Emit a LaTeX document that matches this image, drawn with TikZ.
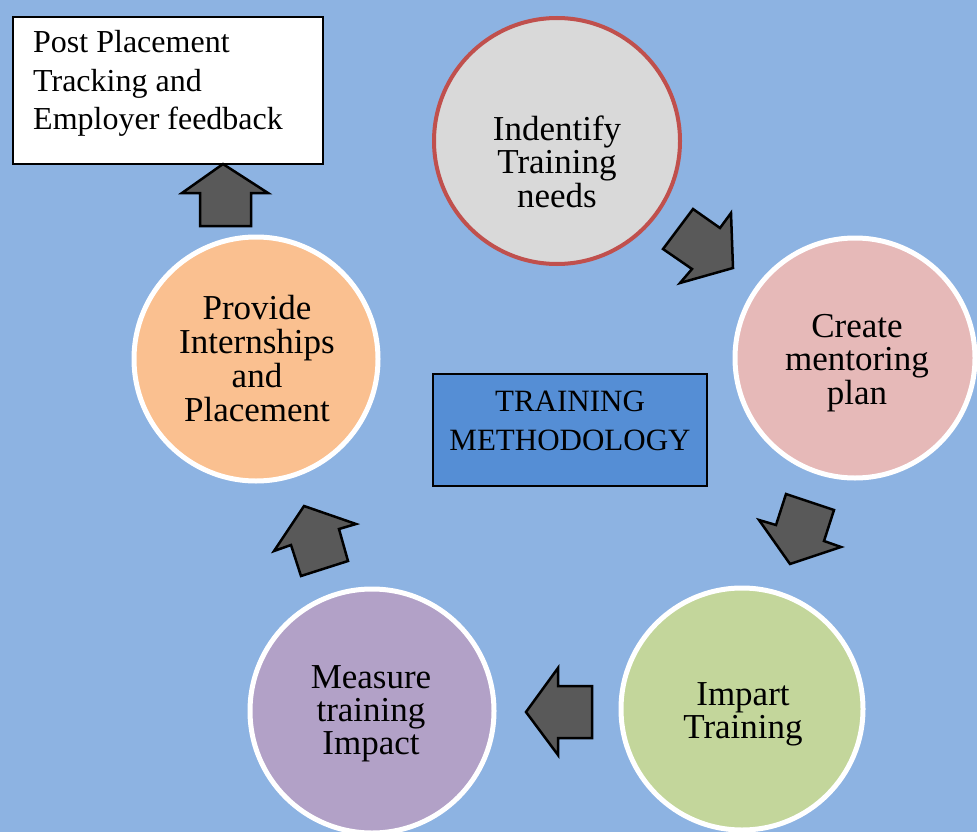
\documentclass[tikz,border=0pt]{standalone}
\usepackage{fontspec}
\setmainfont{Liberation Serif}
\definecolor{bg}{HTML}{8DB3E2}
\definecolor{cgray}{HTML}{D9D9D9}
\definecolor{cred}{HTML}{C0504D}
\definecolor{cpink}{HTML}{E6B9B8}
\definecolor{cgreen}{HTML}{C3D69B}
\definecolor{cpurple}{HTML}{B2A1C7}
\definecolor{corange}{HTML}{FAC090}
\definecolor{cblue}{HTML}{558ED5}
\definecolor{arrowgray}{HTML}{595959}
\begin{document}
\begin{tikzpicture}[x=1pt,y=-1pt,
  stage/.style={circle, draw=white, line width=5pt, inner sep=0pt},
  cyctext/.style={anchor=base, inner sep=0pt, font=\fontsize{35}{33}\selectfont},
  blockarrow/.style={fill=arrowgray, draw=black, line width=2.5pt, line join=miter},
  boxframe/.style={draw=black, line width=2pt, inner sep=0pt}]
\useasboundingbox (0,0) rectangle (977,832);
\fill[bg] (0,0) rectangle (977,832);
\clip (0,0) rectangle (977,832);

% circles
\node[stage, draw=cred, line width=4pt, fill=cgray, minimum size=246pt] (c1) at (557,141) {};
\node[stage, fill=cpink, minimum size=240pt] (c2) at (855,358) {};
\node[stage, fill=cgreen, minimum size=242pt] (c3) at (742,709) {};
\node[stage, fill=cpurple, minimum size=244pt] (c4) at (372,711) {};
\node[stage, fill=corange, minimum size=244pt] (c5) at (256,359) {};

% texts
\node[cyctext] (t1) at (557,140) {\begin{tabular}[t]{@{}c@{}}Indentify\\Training\\needs\end{tabular}};
\node[cyctext] (t2) at (857,337) {\begin{tabular}[t]{@{}c@{}}Create\\mentoring\\plan\end{tabular}};
\node[cyctext] (t3) at (743,705) {\begin{tabular}[t]{@{}c@{}}Impart\\Training\end{tabular}};
\node[cyctext] (t4) at (371,688) {\begin{tabular}[t]{@{}c@{}}Measure\\training\\Impact\end{tabular}};
\node[cyctext] (t5) at (257,319) {\begin{tabular}[t]{@{}c@{}}Provide\\Internships\\and\\Placement\end{tabular}};

% boxes
\node[boxframe, fill=white, minimum width=310pt, minimum height=147pt] (post) at (168,90.5) {};
\node[anchor=base west, inner sep=0pt, font=\fontsize{32}{38.5}\selectfont] (postt) at (33,53)
  {\begin{tabular}[t]{@{}l@{}}Post Placement\\Tracking and\\Employer feedback\end{tabular}};

\node[boxframe, fill=cblue, minimum width=274pt, minimum height=112pt] (meth) at (570,430) {};
\node[anchor=base, inner sep=0pt, font=\fontsize{31}{39}\selectfont] (metht) at (570,411)
  {\begin{tabular}[t]{@{}c@{}}TRAINING\hspace{8pt}\\METHODOLOGY\end{tabular}};

% block arrows
\draw[blockarrow] (663,249) -- (693,209) -- (720,228) -- (731,213) -- (733,268) -- (680,283) -- (692,269) -- cycle;
\draw[blockarrow] (786,494) -- (834,510) -- (824,541) -- (841,547) -- (790,564) -- (759,520) -- (776,525) -- cycle;
\draw[blockarrow] (558,668) -- (558,686) -- (592,686) -- (592,738) -- (558,738) -- (558,755) -- (526,712) -- cycle;
\draw[blockarrow] (304,506) -- (356,524) -- (339,529) -- (348,561) -- (301,576) -- (291,545) -- (274,551) -- cycle;
\draw[blockarrow] (223,164) -- (268,193) -- (251,193) -- (251,226) -- (200,226) -- (200,193) -- (182,193) -- cycle;
\end{tikzpicture}
\end{document}
